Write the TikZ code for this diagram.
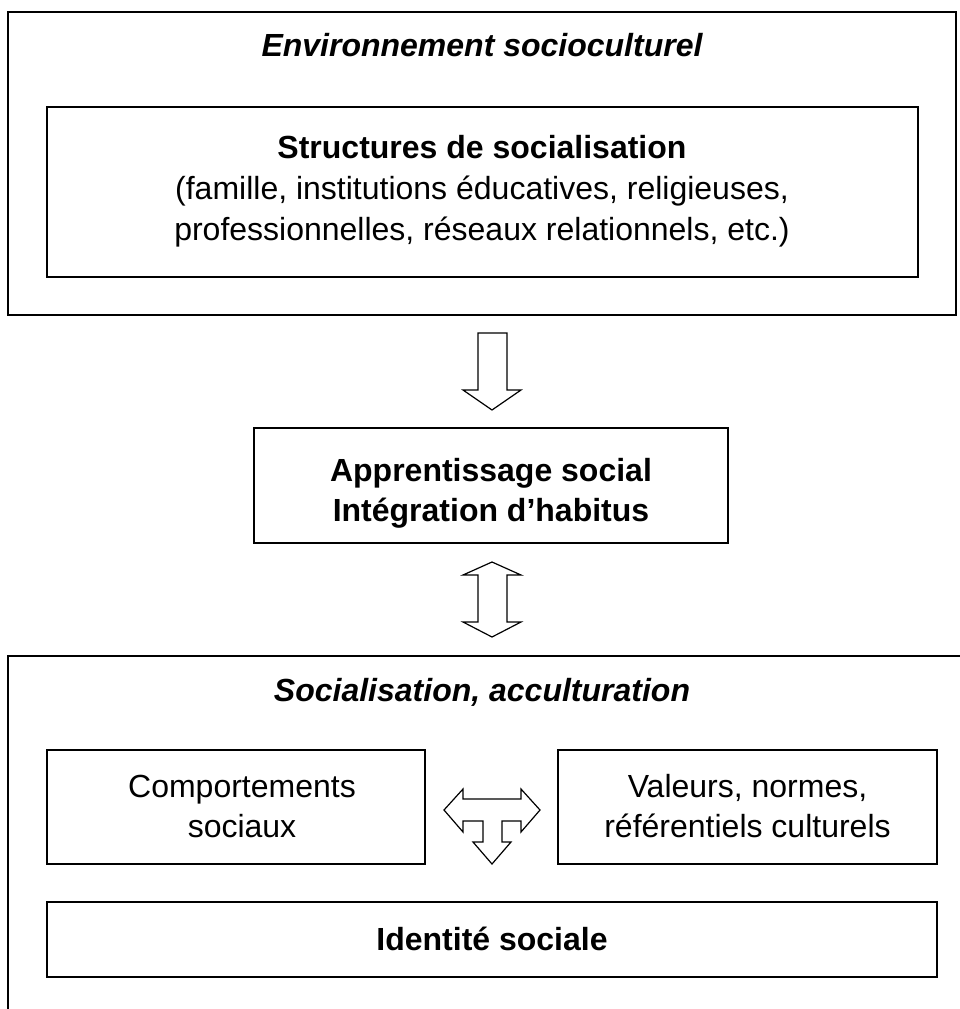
\documentclass[tikz,border=0pt]{standalone}
\usepackage{fontspec}
\setmainfont{Liberation Sans}
\begin{document}
\begin{tikzpicture}[x=1pt,y=-1pt,
  frame/.style={draw, line width=1.5pt, inner sep=0pt},
  txt/.style={anchor=base, inner sep=0pt, font=\fontsize{32}{40}\selectfont},
  btxt/.style={anchor=base, inner sep=0pt, font=\fontsize{32}{40}\selectfont\bfseries},
  ttl/.style={anchor=base, inner sep=0pt, font=\fontsize{32}{40}\selectfont\bfseries\itshape},
  blockarrow/.style={draw, line width=1.2pt, fill=white, line join=miter}]
\useasboundingbox[fill=white] (0,0) rectangle (960,1009);

% top environment box
\node[frame, minimum width=948pt, minimum height=303pt] (env) at (482,163.5) {};
\node[ttl] (envtitle) at (482,56) {Environnement socioculturel};
\node[frame, minimum width=871pt, minimum height=170pt] (struct) at (482.5,192) {};
\node[btxt] (structA) at (482,158) {Structures de socialisation};
\node[txt] (structB) at (482,199) {(famille, institutions éducatives, religieuses,};
\node[txt] (structC) at (482,240) {professionnelles, réseaux relationnels, etc.)};

% arrow down
\draw[blockarrow] (478,333) -- (507,333) -- (507,390) -- (521,390) -- (492,410)
  -- (463,390) -- (478,390) -- cycle;

% apprentissage box
\node[frame, minimum width=474pt, minimum height=115pt] (appr) at (491,485.5) {};
\node[btxt] (apprA) at (491,481) {Apprentissage social};
\node[btxt] (apprB) at (491,521) {Intégration d’habitus};

% double arrow
\draw[blockarrow] (492,562) -- (521,575) -- (507,575) -- (507,622) -- (521,622)
  -- (492,637) -- (463,622) -- (478,622) -- (478,575) -- (463,575) -- cycle;

% bottom open frame
\coordinate (bR) at (962,656);
\coordinate (bTL) at (8,656);
\coordinate (bB) at (8,1012);
\draw[line width=1.5pt] (bR) -- (bTL) -- (bB);
\node[ttl] (soctitle) at (482,701) {Socialisation, acculturation};

\node[frame, minimum width=378pt, minimum height=114pt] (comp) at (236,807) {};
\node[txt] (compA) at (242,797) {Comportements};
\node[txt] (compB) at (242,837) {sociaux};

\node[frame, minimum width=379pt, minimum height=114pt] (val) at (747.5,807) {};
\node[txt] (valA) at (747.5,797) {Valeurs, normes,};
\node[txt] (valB) at (747.5,837) {référentiels culturels};

% T arrow
\draw[blockarrow] (444,810) -- (463,789) -- (463,799) -- (521,799) -- (521,789)
  -- (540,810) -- (521,832) -- (521,821) -- (502,821) -- (502,842) -- (511,842)
  -- (492,864) -- (473,842) -- (483,842) -- (483,821) -- (463,821) -- (463,832) -- cycle;

\node[frame, minimum width=890pt, minimum height=75pt] (ident) at (492,939.5) {};
\node[btxt] (identA) at (492,950) {Identité sociale};
\end{tikzpicture}
\end{document}
